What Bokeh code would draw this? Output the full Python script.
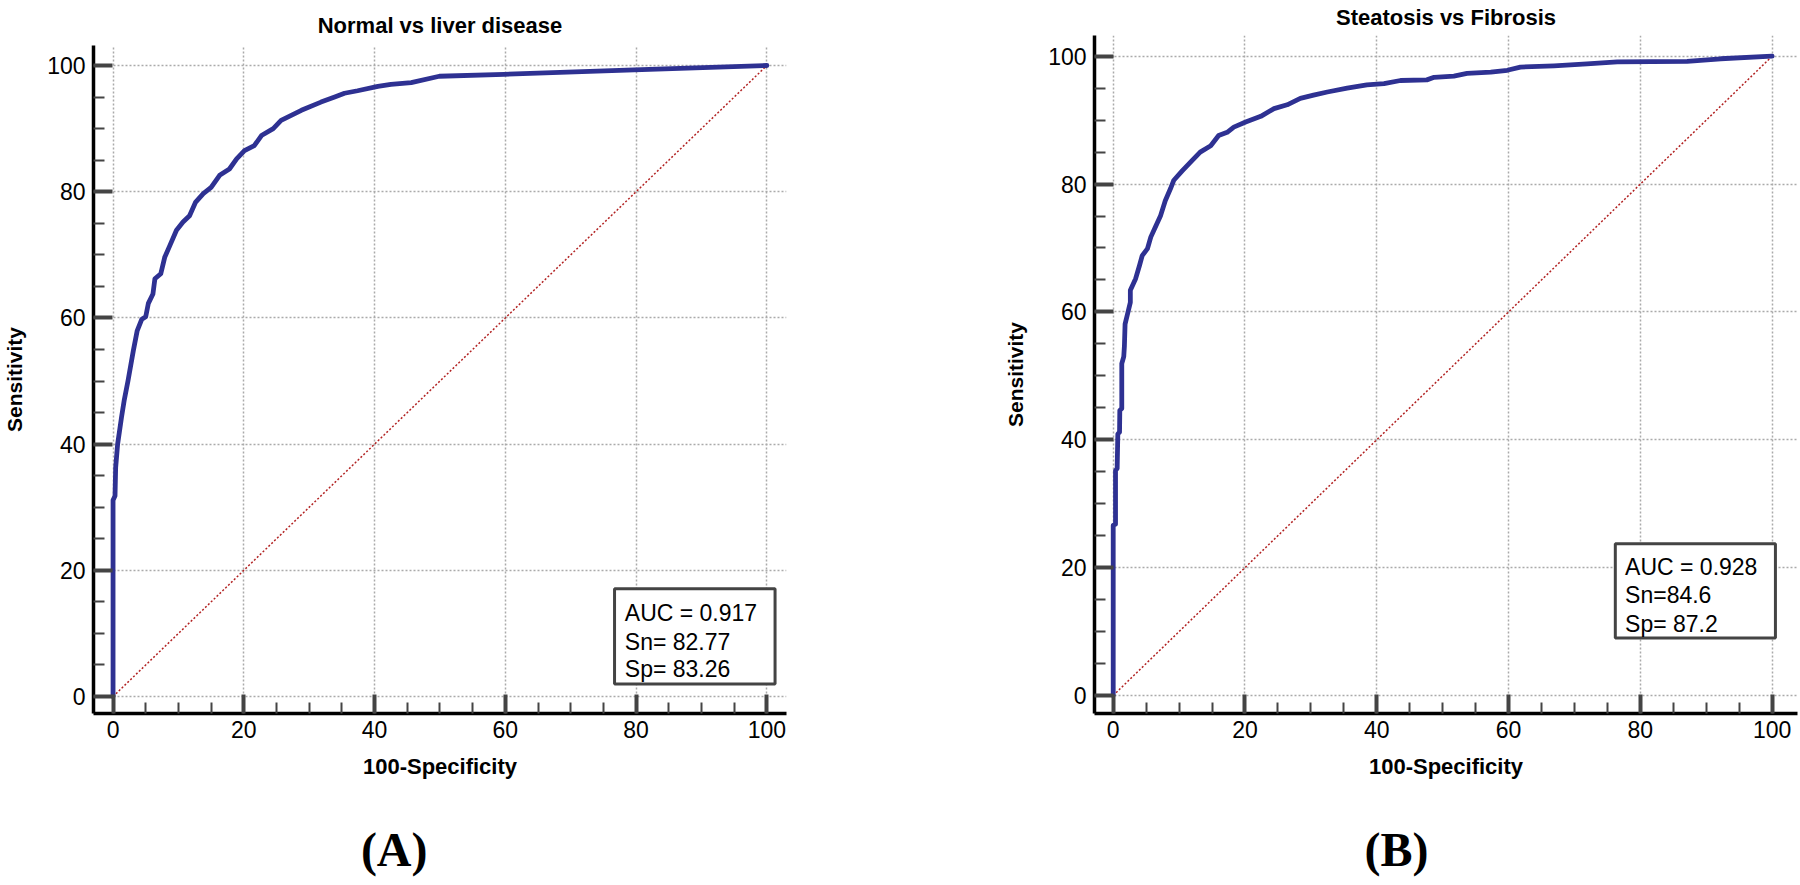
from bokeh.plotting import figure
from bokeh.layouts import row
from bokeh.models import (Range1d, SingleIntervalTicker, FixedTicker, Label, BoxAnnotation, Title,
                          LinearAxis)
from bokeh.embed import file_html
from bokeh.resources import INLINE

# ---------------- data ----------------
# Panel A: Normal vs liver disease (100-Specificity, Sensitivity)
fpr_a = [0, 0, 0.3, 0.4, 0.7, 1.3, 1.7, 2.3, 3.1, 3.7, 4.4, 5.0, 5.4, 6.1, 6.4, 7.3, 7.9, 8.7, 9.7, 10.7,
         11.7, 12.6, 13.8, 15.0, 16.3, 17.8, 18.9, 20.1, 21.6, 22.7, 24.5, 25.7, 28.8, 31.8, 33.9, 35.4,
         37.4, 40.5, 42.5, 45.6, 49.9, 59.8, 79.7, 100]
tpr_a = [0, 31.1, 31.8, 36.3, 40.0, 44.3, 46.9, 50.1, 54.8, 58.0, 59.8, 60.2, 62.3, 63.8, 66.2, 67.0, 69.6,
         71.5, 73.9, 75.2, 76.2, 78.3, 79.7, 80.7, 82.6, 83.6, 85.2, 86.5, 87.3, 88.9, 90.0, 91.3, 92.9,
         94.2, 95.0, 95.6, 96.0, 96.7, 97.0, 97.3, 98.3, 98.6, 99.3, 100]

# Panel B: Steatosis vs Fibrosis
fpr_b = [0, 0, 0.35, 0.35, 0.6, 0.7, 0.96, 1.0, 1.3, 1.3, 1.6, 1.7, 1.8, 2.2, 2.6, 2.6, 3.4, 4.0, 4.4, 5.2,
         5.7, 6.4, 7.2, 7.9, 8.7, 9.2, 10.5, 11.7, 13.2, 14.8, 16.0, 17.3, 18.3, 20.1, 22.4, 24.4, 26.4,
         28.4, 30.4, 32.5, 35.5, 38.5, 41.1, 43.6, 47.6, 48.7, 51.7, 53.7, 57.3, 59.8, 61.8, 66.9, 71.9,
         76.5, 87.1, 92.2, 100]
tpr_b = [0, 26.6, 26.8, 35.2, 35.5, 40.9, 41.2, 44.6, 44.9, 51.9, 53.0, 54.7, 58.1, 59.8, 61.5, 63.4, 65.2,
         67.3, 68.8, 69.9, 71.7, 73.3, 75.1, 77.4, 79.3, 80.6, 82.1, 83.4, 85.0, 86.0, 87.6, 88.1, 88.9,
         89.7, 90.6, 91.8, 92.4, 93.4, 93.9, 94.4, 95.0, 95.5, 95.7, 96.2, 96.3, 96.7, 96.9, 97.3, 97.5,
         97.8, 98.3, 98.5, 98.8, 99.1, 99.2, 99.6, 100]

diag = [0, 100]

titles = ["Normal vs liver disease", "Steatosis vs Fibrosis"]
stats_a = ["AUC = 0.917", "Sn= 82.77", "Sp= 83.26"]
stats_b = ["AUC = 0.928", "Sn=84.6", "Sp= 87.2"]
panel_tags = ["(A)", "(B)"]
x_title = "100-Specificity"
y_title = "Sensitivity"

SANS = "Liberation Sans"
SERIF = "Liberation Serif"
CURVE = "#2e3192"
DIAG = "#b22222"
TAG_AT = 43  # x position (in axis units) under which the panel tag sits


def make_panel(fpr, tpr, title, stats, tag, width, borders, xr, yr, box, text_x, text_ys,
               title_standoff, title_valign):
    bl, br, bt, bb = borders
    p = figure(width=width, height=885, x_range=Range1d(*xr), y_range=Range1d(*yr),
               output_backend="svg", toolbar_location=None, title=None,
               min_border_left=bl, min_border_right=br, min_border_top=bt, min_border_bottom=bb)
    p.frame_align = False
    p.outline_line_color = None
    p.background_fill_color = "white"
    p.border_fill_color = "white"

    for ax, grid in ((p.xaxis[0], p.xgrid[0]), (p.yaxis[0], p.ygrid[0])):
        t = SingleIntervalTicker(interval=20, num_minor_ticks=4)
        ax.ticker = t
        grid.ticker = t
        ax.axis_line_color = "black"
        ax.axis_line_width = 3.5
        ax.major_tick_in = 19
        ax.major_tick_out = 0
        ax.major_tick_line_width = 4
        ax.major_tick_line_color = "#444444"
        ax.minor_tick_in = 11
        ax.minor_tick_out = 0
        ax.minor_tick_line_width = 2
        ax.minor_tick_line_color = "#444444"
        ax.major_label_text_font = SANS
        ax.major_label_text_font_size = "23px"
        ax.major_label_text_color = "black"
        ax.axis_label_text_font = SANS
        ax.axis_label_text_font_style = "bold"
        ax.axis_label_text_color = "black"
        grid.grid_line_color = "#aaaaaa"
        grid.grid_line_width = 1.5
        grid.grid_line_dash = "2 2"

    p.xaxis.axis_label = x_title
    p.xaxis.axis_label_text_font_size = "22px"
    p.xaxis.major_label_standoff = 7
    p.xaxis.axis_label_standoff = 13
    p.yaxis.axis_label = y_title
    p.yaxis.axis_label_text_font_size = "21px"
    p.yaxis.major_label_standoff = 8
    p.yaxis.axis_label_standoff = 18

    p.line(diag, diag, line_color=DIAG, line_width=1.5, line_dash="2 2")
    p.line(fpr, tpr, line_color=CURVE, line_width=4.8, line_join="round", line_cap="round")

    bx0, bx1, by0, by1 = box
    p.add_layout(BoxAnnotation(left=bx0, right=bx1, bottom=by0, top=by1,
                               fill_color="white", fill_alpha=1.0,
                               line_color="#444444", line_alpha=1.0, line_width=3))
    for s, ty in zip(stats, text_ys):
        p.add_layout(Label(x=text_x, y=ty, text=s, text_font=SANS, text_font_size="23px",
                           text_color="black", text_align="left", text_baseline="alphabetic"))

    p.add_layout(Title(text=title, align="center", vertical_align=title_valign,
                       text_font=SANS, text_font_size="22px", text_font_style="bold",
                       text_color="black", standoff=title_standoff), "above")

    # panel tag "(A)" / "(B)" written under the x axis title
    tag_axis = LinearAxis(ticker=FixedTicker(ticks=[TAG_AT], minor_ticks=[]),
                          major_label_overrides={TAG_AT: tag},
                          axis_line_color=None, major_tick_line_color=None,
                          minor_tick_line_color=None, major_tick_in=0, major_tick_out=0,
                          minor_tick_in=0, minor_tick_out=0, major_label_standoff=41,
                          major_label_text_font=SERIF, major_label_text_font_size="48px",
                          major_label_text_font_style="bold", major_label_text_color="black")
    p.add_layout(tag_axis, "below")
    return p


pa = make_panel(fpr_a, tpr_a, titles[0], stats_a, panel_tags[0], 900,
                (92, 114, 45, 172), (-2.99, 103.0), (-2.69, 103.17),
                (76.7, 101.25, 1.98, 17.08), 78.27, [13.2, 8.72, 4.39], 15, "bottom")
pb = make_panel(fpr_b, tpr_b, titles[1], stats_b, panel_tags[1], 900,
                (194, 3, 35, 172), (-2.84, 103.85), (-2.82, 103.24),
                (76.2, 100.5, 8.99, 23.75), 77.68, [20.07, 15.64, 11.2], 7, "top")

layout = row(pa, pb)
open("out.html", "w").write(file_html(layout, INLINE))
